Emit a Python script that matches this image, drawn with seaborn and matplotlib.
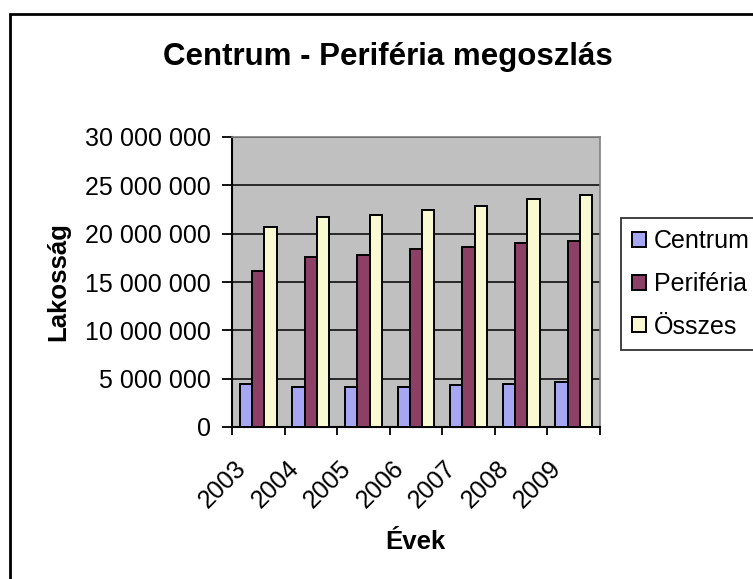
import numpy as np
import pandas as pd
import matplotlib
matplotlib.use('Agg')
import matplotlib.pyplot as plt
import matplotlib.ticker as mticker
import matplotlib.transforms as mtransforms
from matplotlib.patches import Rectangle
import seaborn as sns

# Data
years = ['2003', '2004', '2005', '2006', '2007', '2008', '2009']
centrum = [4480000, 4100000, 4100000, 4100000, 4310000, 4480000, 4660000]
periferia = [16100000, 17550000, 17760000, 18380000, 18590000, 19000000, 19200000]
osszes = [20660000, 21690000, 21900000, 22500000, 22900000, 23550000, 23970000]
series = ['Centrum', 'Periféria', 'Összes']
colors = ['#9999FF', '#993366', '#FFFFCC']

df = pd.DataFrame({
    'Év': years * 3,
    'Lakosság': centrum + periferia + osszes,
    'Sorozat': [s for s in series for _ in years],
})

sns.set_style('white')
plt.rcParams['font.family'] = ['Liberation Sans', 'DejaVu Sans']
plt.rcParams['text.color'] = 'black'
plt.rcParams['xtick.color'] = 'black'
plt.rcParams['ytick.color'] = 'black'

fig = plt.figure(figsize=(7.53, 5.79), dpi=100)
ax = fig.add_axes([232 / 753, 1 - 427 / 579, 368 / 753, 290 / 579])
ax.set_facecolor('#C0C0C0')

sns.barplot(data=df, x='Év', y='Lakosság', hue='Sorozat', palette=colors,
            width=0.7, edgecolor='black', linewidth=1.4, ax=ax, zorder=3)

ax.set_ylim(0, 30000000)
ax.set_xlim(-0.5, len(years) - 0.5)
ax.yaxis.set_major_locator(mticker.MultipleLocator(5000000))
ax.yaxis.set_major_formatter(mticker.FuncFormatter(
    lambda v, p: f'{int(v):,}'.replace(',', ' ')))
ax.grid(axis='y', color='black', linewidth=1.1, zorder=0)
ax.set_axisbelow(True)

# x ticks on the category borders, labels in the middle
ax.set_xticks(np.arange(-0.5, len(years)), minor=True)
ax.set_xticks(np.arange(len(years)))
ax.tick_params(axis='x', which='major', length=0, pad=16)
ax.tick_params(axis='x', which='minor', length=6, width=1.3, color='black',
               direction='out', bottom=True)
ax.tick_params(axis='y', length=7, width=1.3, color='black', direction='out',
               left=True, pad=8, labelsize=18)
ax.set_xticklabels(years, rotation=45, ha='right', va='center',
                   rotation_mode='anchor', fontsize=18)
shift = mtransforms.ScaledTranslation(-0.16, -0.15, fig.dpi_scale_trans)
for lbl in ax.get_xticklabels():
    lbl.set_transform(lbl.get_transform() + shift)

ax.set_xlabel('')
ax.set_ylabel('')
for s in ['left', 'bottom']:
    ax.spines[s].set_color('black')
    ax.spines[s].set_linewidth(1.5)
for s in ['top', 'right']:
    ax.spines[s].set_color('#808080')
    ax.spines[s].set_linewidth(1.2)

handles, labels = ax.get_legend_handles_labels()
leg = ax.legend(handles, labels, loc='upper left',
                bbox_to_anchor=(621 / 753, 1 - 218 / 579),
                bbox_transform=fig.transFigure, frameon=True, fancybox=False,
                edgecolor='black', fontsize=18, handlelength=0.55,
                handleheight=0.55, handletextpad=0.3, borderpad=0.45,
                labelspacing=0.75, borderaxespad=0)
leg.get_frame().set_linewidth(1.3)

fig.text(388 / 753, 1 - 57 / 579, 'Centrum - Periféria megoszlás',
         ha='center', va='center', fontsize=22.5, fontweight='bold')
fig.text(58 / 753, 1 - 282 / 579, 'Lakosság', rotation=90,
         ha='center', va='center', fontsize=18.5, fontweight='bold')
fig.text(415 / 753, 1 - 542 / 579, 'Évek',
         ha='center', va='center', fontsize=18.5, fontweight='bold')

# outer chart frame (cut off at right and bottom like the original)
fig.patches.append(Rectangle((10 / 753, -0.1), 1.2, 1 - 14 / 579 + 0.1,
                             transform=fig.transFigure, fill=False,
                             edgecolor='black', linewidth=2))

fig.savefig('out.png', dpi=100)
